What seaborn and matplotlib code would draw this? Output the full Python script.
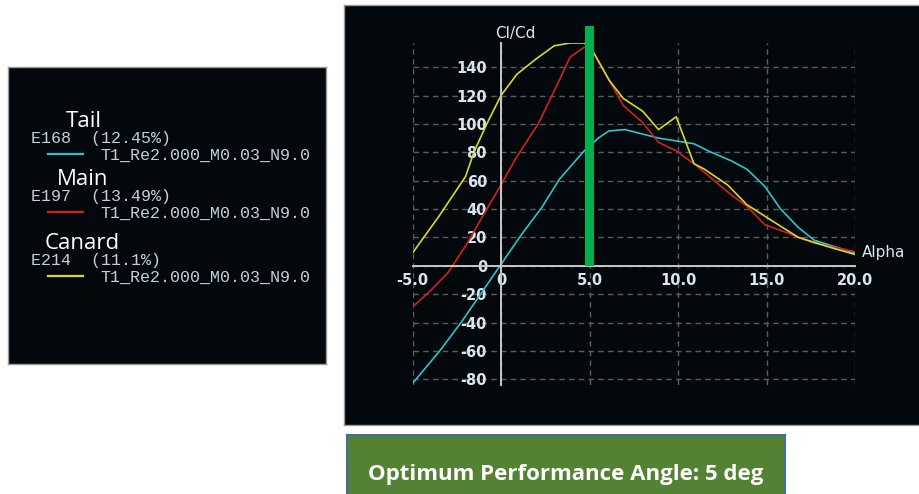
import pandas as pd
import seaborn as sns
import matplotlib.pyplot as plt

# Cl/Cd vs alpha polars
tail_alpha = [-5.0, -3.4, -2.2, -1.1, 0.0, 1.1, 2.3, 3.3, 4.7, 5.5, 6.1, 7.0,
              8.9, 9.9, 10.9, 11.7, 13.0, 13.9, 14.9, 15.8, 16.8, 17.7, 20.0]
tail_clcd = [-83, -59, -39, -19, 1, 21, 41, 61, 81, 90, 95, 96,
             90, 88, 86, 81, 74, 68, 56, 40, 27, 18, 9]

main_alpha = [-5.0, -4.1, -3.0, -1.9, -0.8, 0.0, 0.9, 2.1, 3.0, 3.9, 4.7, 5.1,
              6.1, 6.9, 8.0, 8.9, 9.9, 11.0, 13.0, 13.9, 14.9, 16.0, 17.7, 20.0]
main_clcd = [-29, -19, -5, 16, 40, 57, 77, 100, 123, 147, 154, 153,
             131, 113, 101, 87, 81, 71, 50, 42, 29, 24, 16, 10]

canard_alpha = [-5.0, -3.5, -2.0, -1.5, -0.8, 0.0, 0.9, 1.9, 3.0, 3.9, 4.7, 5.2,
                6.1, 6.9, 8.0, 8.9, 9.9, 10.9, 11.5, 12.8, 13.9, 14.9, 16.8, 18.6, 20.0]
canard_clcd = [9, 35, 63, 81, 100, 120, 135, 145, 155, 157, 157, 151,
               131, 118, 109, 96, 105, 72, 68, 57, 43, 35, 20, 13, 8]

foils = ['Tail', 'Main', 'Canard']
foil_names = ['E168  (12.45%)', 'E197  (13.49%)', 'E214  (11.1%)']
polar_name = 'T1_Re2.000_M0.03_N9.0'
colors = {'Tail': '#2cc5cb', 'Main': '#d41f1f', 'Canard': '#d8d82c'}

x_ticks = [-5, 0, 5, 10, 15, 20]
x_tick_labels = ['-5.0', '0', '5.0', '10.0', '15.0', '20.0']
y_ticks = [-80, -60, -40, -20, 0, 20, 40, 60, 80, 100, 120, 140]

best_alpha = 5
best_bar_top = 169
note = 'Optimum Performance Angle: 5 deg'

df = pd.concat([
    pd.DataFrame({'alpha': tail_alpha, 'clcd': tail_clcd, 'foil': 'Tail'}),
    pd.DataFrame({'alpha': main_alpha, 'clcd': main_clcd, 'foil': 'Main'}),
    pd.DataFrame({'alpha': canard_alpha, 'clcd': canard_clcd, 'foil': 'Canard'}),
], ignore_index=True)

bg = '#03080c'
txt = '#dbe5ef'
W, H = 919, 494


def box(l, t, r, b):
    return [l / W, 1 - b / H, (r - l) / W, (b - t) / H]


def plain(a, face, edge, lw=1.0):
    a.set_facecolor(face)
    a.set_xticks([])
    a.set_yticks([])
    for s in a.spines.values():
        s.set_color(edge)
        s.set_linewidth(lw)


fig = plt.figure(figsize=(W / 100, H / 100), dpi=100)
fig.patch.set_facecolor('white')

# black panel behind the graph
panel = fig.add_axes(box(344, 5, 920, 425))
plain(panel, bg, '#9a9a9a')

# the graph itself
ax = fig.add_axes(box(412.5, 43, 855, 385))
ax.patch.set_alpha(0)
sns.lineplot(data=df, x='alpha', y='clcd', hue='foil', palette=colors,
             estimator=None, sort=False, legend=False, linewidth=1.2, ax=ax)
ax.bar(best_alpha, best_bar_top, width=0.52, color='#00b050', zorder=5, clip_on=False)

ax.set_xlim(-5, 20)
ax.set_ylim(-84, 157)
ax.set_xlabel('')
ax.set_ylabel('')

# axes cross at the origin (set_position resets the ticks, so do it first)
ax.spines['left'].set_position(('data', 0))
ax.spines['bottom'].set_position(('data', 0))
ax.spines['top'].set_visible(False)
ax.spines['right'].set_visible(False)
for s in ['left', 'bottom']:
    ax.spines[s].set_color('#c8c8c8')
    ax.spines[s].set_linewidth(1.4)
    ax.spines[s].set_zorder(3)

ax.set_xticks(x_ticks, x_tick_labels)
ax.set_yticks(y_ticks, [str(v) for v in y_ticks])
ax.tick_params(axis='both', length=0, labelcolor=txt, labelsize=10.5)
ax.tick_params(axis='y', pad=10)
ax.tick_params(axis='x', pad=5)
for lbl in ax.get_xticklabels() + ax.get_yticklabels():
    lbl.set_fontweight('bold')

ax.set_axisbelow(True)
ax.grid(True, color='#5c5c5c', linestyle=(0, (4, 3)), linewidth=1.0)

ax.text(0.82, 164, 'Cl/Cd', color=txt, fontsize=11, ha='center', va='center', clip_on=False)
ax.text(20.4, 9.4, 'Alpha', color=txt, fontsize=11, ha='left', va='center', clip_on=False)

# legend panel, drawn in pixel coordinates
leg = fig.add_axes(box(8, 67, 326, 364))
plain(leg, bg, '#9a9a9a')
leg.set_xlim(8, 326)
leg.set_ylim(364, 67)
head_x = [66, 57, 45]
rows_y = [127, 185, 249]
for i, foil in enumerate(foils):
    y0 = rows_y[i]
    leg.text(head_x[i], y0, foil, color='white', fontsize=16,
             family='Open Sans', va='baseline')
    leg.text(31, y0 + 16, foil_names[i], color='#c4cfd9', fontsize=12,
             family='Liberation Mono', va='baseline')
    leg.plot([48, 83], [y0 + 27, y0 + 27], color=colors[foil], lw=1.6)
    leg.text(100, y0 + 33, polar_name, color='#c4cfd9', fontsize=12,
             family='Liberation Mono', va='baseline')

# green caption box
cap = fig.add_axes(box(347, 435, 785, 500))
plain(cap, '#548235', '#41719c', 1.5)
cap.text(0.5, 0.39, note, transform=cap.transAxes, color='white', fontsize=16,
         family='Open Sans', fontweight='bold', ha='center', va='center')

fig.savefig('out.png', dpi=100, facecolor='white')
